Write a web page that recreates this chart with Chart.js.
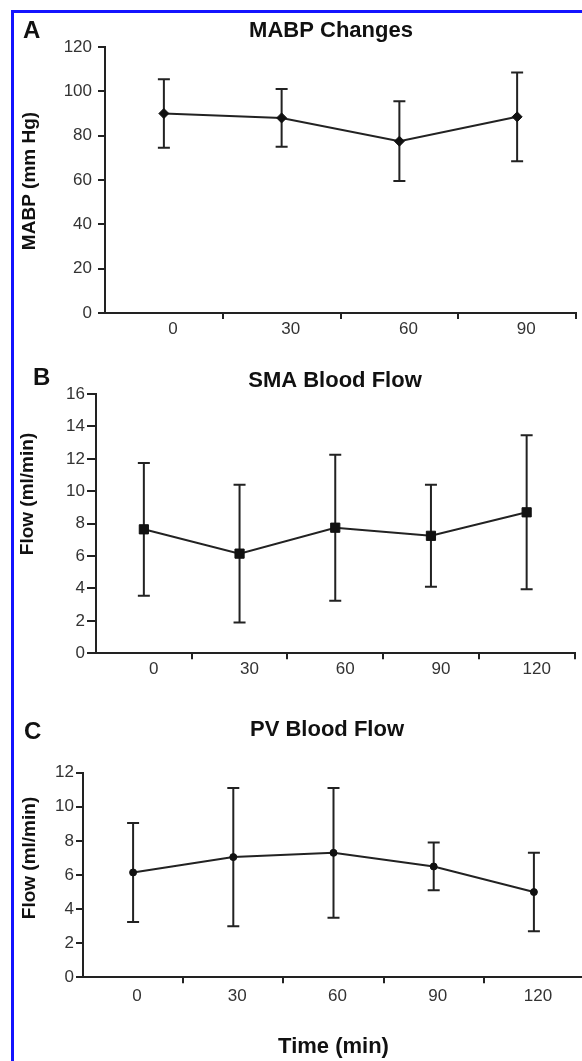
<!DOCTYPE html>
<html>
<head>
<meta charset="utf-8">
<title>MABP, SMA y PV</title>
<script src="https://cdn.jsdelivr.net/npm/chart.js@4.4.1/dist/chart.umd.min.js"></script>
<style>
  html, body { margin: 0; padding: 0; background: #fff; overflow: hidden; }
  #marco { position: absolute; left: 11px; top: 10px; width: 620px; height: 1100px;
           border-left: 3px solid #1414ff; border-top: 3px solid #1414ff; }
  canvas { position: absolute; left: 0; }
</style>
</head>
<body>
<div id="marco"></div>
<canvas id="chartA" width="582" height="345" style="top:0px"></canvas>
<canvas id="chartB" width="582" height="345" style="top:345px"></canvas>
<canvas id="chartC" width="590" height="371" style="top:690px"></canvas>

<script>
// datos (media y desviacion)
const tiemposA = ['0', '30', '60', '90'];
const tiemposBC = ['0', '30', '60', '90', '120'];

const mabpMedia = [90, 88, 77.5, 88.5];
const mabpDE = [15.5, 13, 18, 20];

const smaMedia = [7.65, 6.15, 7.75, 7.25, 8.7];
const smaDE = [4.1, 4.25, 4.5, 3.15, 4.75];

const pvMedia = [6.15, 7.05, 7.3, 6.5, 5.0];
const pvDE = [2.9, 4.05, 3.8, 1.4, 2.3];

const fuente = '"Liberation Sans", Arial, sans-serif';

// barras de error con remate
const barrasError = {
    id: 'barrasError',
    beforeDatasetsDraw(chart, args, opts) {
        const ctx = chart.ctx;
        const ejeY = chart.scales.y;
        const puntos = chart.getDatasetMeta(0).data;
        const medias = chart.data.datasets[0].data;
        ctx.save();
        ctx.strokeStyle = '#222';
        ctx.lineWidth = 2;
        puntos.forEach((p, i) => {
            const arriba = ejeY.getPixelForValue(medias[i] + opts.valores[i]);
            const abajo = ejeY.getPixelForValue(medias[i] - opts.valores[i]);
            ctx.beginPath();
            ctx.moveTo(p.x, arriba);
            ctx.lineTo(p.x, abajo);
            ctx.moveTo(p.x - 6, arriba);
            ctx.lineTo(p.x + 6, arriba);
            ctx.moveTo(p.x - 6, abajo);
            ctx.lineTo(p.x + 6, abajo);
            ctx.stroke();
        });
        ctx.restore();
    }
};

// letra del panel, titulo y titulo del eje y
const textosPanel = {
    id: 'textosPanel',
    afterDraw(chart, args, opts) {
        const ctx = chart.ctx;
        ctx.save();
        ctx.fillStyle = '#111';
        ctx.textBaseline = 'middle';
        ctx.textAlign = 'left';
        ctx.font = 'bold 24px ' + fuente;
        ctx.fillText(opts.letra, opts.letraX, opts.letraY);
        ctx.textAlign = 'center';
        ctx.font = 'bold 22px ' + fuente;
        ctx.fillText(opts.titulo, opts.tituloX, opts.tituloY);
        ctx.translate(opts.ejeX, opts.ejeY);
        ctx.rotate(-Math.PI / 2);
        ctx.font = 'bold 19px ' + fuente;
        ctx.fillText(opts.ejeTitulo, 0, 0);
        ctx.restore();
    }
};

function crearPanel(idCanvas, cfg) {
    const ctx = document.getElementById(idCanvas).getContext('2d');
    return new Chart(ctx, {
        type: 'line',
        data: {
            labels: cfg.etiquetas,
            datasets: [{
                data: cfg.medias,
                borderColor: '#222',
                borderWidth: 2,
                tension: 0,
                pointStyle: cfg.marcador,
                pointRadius: cfg.radio,
                pointBackgroundColor: '#111',
                pointBorderColor: '#111',
                pointBorderWidth: 1
            }]
        },
        options: {
            responsive: false,
            animation: false,
            events: [],
            layout: { padding: { top: cfg.arriba, right: cfg.derecha, left: 0, bottom: 0 } },
            plugins: {
                legend: { display: false },
                tooltip: { enabled: false },
                barrasError: { valores: cfg.errores },
                textosPanel: cfg.textos
            },
            scales: {
                x: {
                    type: 'category',
                    offset: true,
                    grid: {
                        offset: true,
                        drawOnChartArea: false,
                        tickLength: 6,
                        color: '#222',
                        // sin marca bajo el origen
                        tickColor: c => c.index === 0 ? 'rgba(0,0,0,0)' : '#222',
                        lineWidth: 2
                    },
                    border: { display: true, color: '#222', width: 2 },
                    ticks: {
                        color: '#333',
                        font: { family: fuente, size: 17 },
                        padding: cfg.xPad,
                        labelOffset: cfg.xDesp,
                        maxRotation: 0,
                        autoSkip: false
                    },
                    title: cfg.xTitulo ? {
                        display: true,
                        text: cfg.xTitulo,
                        color: '#111',
                        font: { family: fuente, size: 22, weight: 'bold' },
                        padding: { top: 0, bottom: 1 }
                    } : { display: false },
                    afterFit: s => { s.height = cfg.altoX; }
                },
                y: {
                    min: 0,
                    max: cfg.max,
                    ticks: {
                        stepSize: cfg.paso,
                        color: '#333',
                        font: { family: fuente, size: 17 },
                        padding: cfg.yPad
                    },
                    grid: { drawOnChartArea: false, tickLength: cfg.yTick, color: '#222', lineWidth: 2 },
                    border: { display: true, color: '#222', width: 2 },
                    afterFit: s => { s.width = cfg.anchoY; }
                }
            }
        },
        plugins: [barrasError, textosPanel]
    });
}

crearPanel('chartA', {
    etiquetas: tiemposA, medias: mabpMedia, errores: mabpDE,
    marcador: 'rectRot', radio: 5, max: 120, paso: 20,
    arriba: 47, derecha: 5, anchoY: 105, altoX: 32,
    yTick: 7, yPad: 6, xPad: 0, xDesp: 9,
    textos: { letra: 'A', letraX: 23, letraY: 31, titulo: 'MABP Changes', tituloX: 331, tituloY: 31,
              ejeTitulo: 'MABP (mm Hg)', ejeX: 30, ejeY: 181 }
});

crearPanel('chartB', {
    etiquetas: tiemposBC, medias: smaMedia, errores: smaDE,
    marcador: 'rect', radio: 6.5, max: 16, paso: 2,
    arriba: 49, derecha: 5, anchoY: 96, altoX: 36.7,
    yTick: 9, yPad: 2, xPad: 0, xDesp: 10,
    textos: { letra: 'B', letraX: 33, letraY: 33, titulo: 'SMA Blood Flow', tituloX: 335, tituloY: 36,
              ejeTitulo: 'Flow (ml/min)', ejeX: 28, ejeY: 149 }
});

crearPanel('chartC', {
    etiquetas: tiemposBC, medias: pvMedia, errores: pvDE,
    marcador: 'circle', radio: 3.5, max: 12, paso: 2,
    arriba: 82.7, derecha: 6, anchoY: 83, altoX: 83.7,
    yTick: 7, yPad: 2, xPad: 3, xDesp: 4,
    xTitulo: 'Time (min)',
    textos: { letra: 'C', letraX: 24, letraY: 42, titulo: 'PV Blood Flow', tituloX: 327, tituloY: 40,
              ejeTitulo: 'Flow (ml/min)', ejeX: 30, ejeY: 168 }
});
</script>
</body>
</html>
